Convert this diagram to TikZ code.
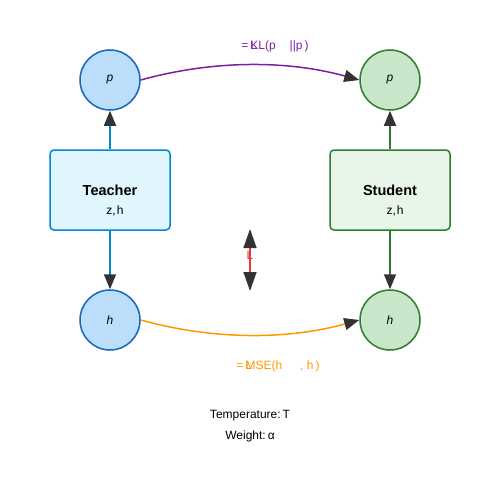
\documentclass[tikz,border=0pt]{standalone}
\usepackage{fontspec}
\setmainfont{Liberation Sans}
\usepackage{xcolor}
\usetikzlibrary{arrows.meta}
\definecolor{tblue}{HTML}{1565C0}
\definecolor{tboxline}{HTML}{0288D1}
\definecolor{tfill}{HTML}{BBDEFB}
\definecolor{tboxfill}{HTML}{E1F5FE}
\definecolor{sgreen}{HTML}{2E7D32}
\definecolor{sfill}{HTML}{C8E6C9}
\definecolor{sboxfill}{HTML}{E8F5E9}
\definecolor{klpurple}{HTML}{7B1FA2}
\definecolor{mseorange}{HTML}{FF9800}
\definecolor{lossred}{HTML}{E53935}
\definecolor{tipgray}{HTML}{333333}

\begin{document}
\begin{tikzpicture}
    [
    x=1pt, y=-1pt
    , outdot/.style = {circle,minimum size=60pt,inner sep=0pt,line width=1.5pt,font=\fontsize{12}{14}\selectfont\itshape}
    , model/.style = {rectangle,rounded corners=4pt,minimum width=120pt,minimum height=80pt,line width=1.5pt,font=\fontsize{14.5}{16}\selectfont\bfseries}
    , sub/.style = {font=\fontsize{12}{14}\selectfont}
    , arr/.style = {line width=1.5pt,-{Triangle[length=15pt,width=12pt,color=tipgray]}}
    ]
\useasboundingbox (0,0) rectangle (500,500);

\node[outdot,draw=tblue,fill=tfill] (tp) at (110,80) {p};
\node[outdot,draw=sgreen,fill=sfill] (sp) at (390,80) {p};
\node[outdot,draw=tblue,fill=tfill] (th) at (110,320) {h};
\node[outdot,draw=sgreen,fill=sfill] (sh) at (390,320) {h};

\node[model,draw=tboxline,fill=tboxfill] (teacher) at (110,190) {Teacher};
\node[sub] at (115,211) {z,\hspace{1pt}h};
\node[model,draw=sgreen,fill=sboxfill] (student) at (390,190) {Student};
\node[sub] at (395,211) {z,\hspace{1pt}h};

\draw[arr,tboxline] (teacher) -- (tp);
\draw[arr,tboxline] (teacher) -- (th);
\draw[arr,sgreen] (student) -- (sp);
\draw[arr,sgreen] (student) -- (sh);

\draw[arr,klpurple] (tp.east) .. controls (213,60) and (287,60) .. (sp.west);
\draw[arr,mseorange] (th.east) .. controls (213,340) and (287,340) .. (sh.west);

\node[sub,text=klpurple] (kl) at (275,46) {=\,\rlap{L}KL(p\hspace{14pt}||p\,)};
\node[sub,text=mseorange] (mse) at (278,366) {=\,\rlap{L}MSE(h\hspace{18pt}, h\,)};

\coordinate (ltop) at (250,229);
\coordinate (lbot) at (250,291);
\node[sub,text=lossred] (loss) at (250,255) {L};
\draw[lossred,line width=1.5pt,{Triangle[length=19pt,width=13pt,color=tipgray]}-{Triangle[length=19pt,width=13pt,color=tipgray]}] (ltop) -- (lbot);

\node[sub] (temp) at (250,416) {Temperature:\hspace{2pt}T};
\node[sub] (weight) at (250,436) {Weight:\hspace{2pt}α};
\end{tikzpicture}
\end{document}
